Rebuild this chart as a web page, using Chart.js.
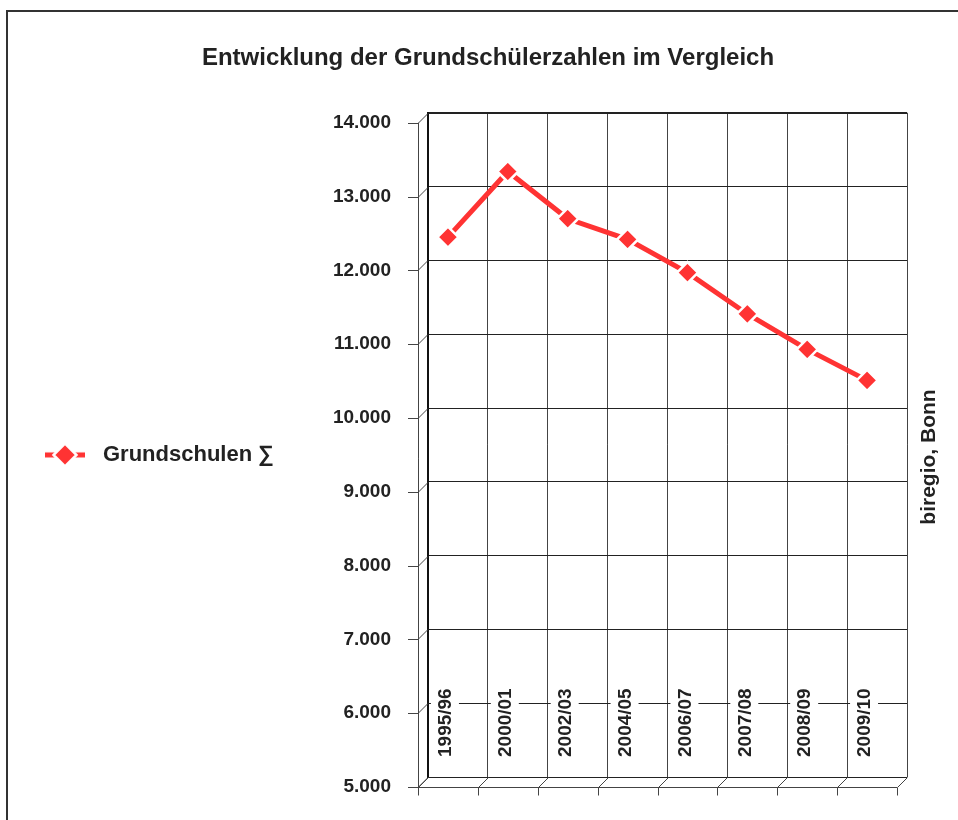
<!DOCTYPE html>
<html>
<head>
<meta charset="utf-8">
<script src="https://cdn.jsdelivr.net/npm/chart.js@4"></script>
<style>
  html, body { margin: 0; padding: 0; background: #fff; overflow: hidden; }
  #frame { position: absolute; left: 6px; top: 10px; width: 1000px; height: 860px; border: 2px solid #333; }
  #chart { position: absolute; left: 0; top: 0; }
</style>
</head>
<body>
<div id="frame"></div>
<canvas id="chart" width="958" height="820"></canvas>
<script>
const years = ['1995/96', '2000/01', '2002/03', '2004/05', '2006/07', '2007/08', '2008/09', '2009/10']
const schueler = [12450, 13340, 12700, 12420, 11970, 11410, 10930, 10510]
const yMin = 5000
const yMax = 14000
const yStep = 1000

const FONT = "'Liberation Sans', Arial, sans-serif"
const RED = '#ff3333'
const DEPTH = 10

// legend symbol: line with diamond, like excel
const legendIcon = document.createElement('canvas')
legendIcon.width = 54
legendIcon.height = 24
{
    const c = legendIcon.getContext('2d')
    c.strokeStyle = RED
    c.lineWidth = 5
    c.beginPath()
    c.moveTo(7, 12)
    c.lineTo(47, 12)
    c.stroke()
    c.beginPath()
    c.moveTo(27, 0.5); c.lineTo(38.5, 12); c.lineTo(27, 23.5); c.lineTo(15.5, 12); c.closePath()
    c.fillStyle = RED
    c.fill()
    c.strokeStyle = '#fff'
    c.lineWidth = 2.5
    c.stroke()
}

const pseudo3d = {
    id: 'pseudo3d',
    beforeDatasetsDraw(chart) {
        const {ctx, chartArea: a, scales: {x, y}} = chart
        const colW = a.width / years.length
        ctx.save()
        ctx.strokeStyle = '#444'
        ctx.lineWidth = 1
        ctx.beginPath()
        // front value axis
        ctx.moveTo(a.left - DEPTH + 0.5, y.getPixelForValue(yMax) + DEPTH)
        ctx.lineTo(a.left - DEPTH + 0.5, y.getPixelForValue(yMin) + DEPTH + 8)
        for (let v = yMin; v <= yMax; v += yStep) {
            const py = Math.round(y.getPixelForValue(v)) + 0.5
            ctx.moveTo(a.left - DEPTH - 10, py + DEPTH)
            ctx.lineTo(a.left - DEPTH, py + DEPTH)
            ctx.lineTo(a.left, py)
        }
        // floor front edge
        const fy = Math.round(a.bottom) + 0.5
        ctx.moveTo(a.left - DEPTH, fy + DEPTH)
        ctx.lineTo(a.right - DEPTH, fy + DEPTH)
        for (let i = 0; i <= years.length; i++) {
            const bx = i < years.length ? x.getPixelForValue(i) - colW / 2 : a.right
            const px = Math.round(bx) + 0.5
            ctx.moveTo(px, fy)
            ctx.lineTo(px - DEPTH, fy + DEPTH)
            ctx.lineTo(px - DEPTH, fy + DEPTH + 8)
        }
        ctx.stroke()

        // category labels, vertical, inside the plot
        ctx.font = 'bold 19px ' + FONT
        ctx.textBaseline = 'middle'
        ctx.textAlign = 'left'
        const base = a.bottom - 20
        years.forEach((lab, i) => {
            const cx = x.getPixelForValue(i) - DEPTH - 3
            const w = ctx.measureText(lab).width
            ctx.fillStyle = '#fff'
            ctx.fillRect(cx - 14, base - w - 4, 28, w + 8)
            ctx.save()
            ctx.translate(cx, base)
            ctx.rotate(-Math.PI / 2)
            ctx.fillStyle = '#222'
            ctx.fillText(lab, 0, 1)
            ctx.restore()
        })

        // source note on the right
        ctx.save()
        ctx.font = 'bold 21px ' + FONT
        ctx.textAlign = 'center'
        ctx.textBaseline = 'middle'
        ctx.fillStyle = '#222'
        ctx.translate(929, 457)
        ctx.rotate(-Math.PI / 2)
        ctx.fillText('biregio, Bonn', 0, 0)
        ctx.restore()
        ctx.restore()

        // series sits on the front plane
        ctx.save()
        ctx.translate(-DEPTH, DEPTH)
    },
    afterDatasetsDraw(chart) {
        chart.ctx.restore()
    }
}

new Chart('chart', {
    type: 'line',
    data: {
        labels: years,
        datasets: [{
            label: 'Grundschulen ∑',
            data: schueler,
            borderColor: RED,
            borderWidth: 5,
            backgroundColor: RED,
            pointStyle: 'rectRot',
            pointRadius: 10.5,
            pointBackgroundColor: RED,
            pointBorderColor: '#fff',
            pointBorderWidth: 2.5,
            tension: 0,
            clip: false
        }]
    },
    options: {
        responsive: false,
        animation: false,
        locale: 'de-DE',
        layout: { padding: { left: 18, right: 0, top: 0, bottom: 0 } },
        plugins: {
            title: {
                display: true,
                text: 'Entwicklung der Grundschülerzahlen im Vergleich',
                color: '#222',
                font: { family: FONT, size: 24, weight: 'bold' },
                padding: { top: 44, bottom: 40 }
            },
            legend: {
                position: 'left',
                fullSize: false,
                maxWidth: 320,
                title: { display: true, text: ' ', font: { size: 10 }, padding: { top: 4, bottom: 4 } },
                labels: {
                    usePointStyle: true,
                    pointStyle: legendIcon,
                    pointStyleWidth: 54,
                    padding: 20,
                    color: '#222',
                    font: { family: FONT, size: 22, weight: 'bold' }
                }
            },
            tooltip: { enabled: false }
        },
        scales: {
            x: {
                offset: true,
                grid: { offset: true, color: '#444', lineWidth: 1, drawTicks: false },
                border: { display: false },
                ticks: { display: false },
                afterFit: s => { s.height = 43 }
            },
            y: {
                min: yMin,
                max: yMax,
                grid: {
                    color: '#222',
                    lineWidth: c => (c.tick && c.tick.value === yMax ? 2 : 1),
                    drawTicks: true,
                    tickLength: 37,
                    tickColor: 'rgba(0,0,0,0)'
                },
                border: { display: true, color: '#111', width: 2 },
                ticks: {
                    stepSize: yStep,
                    padding: 0,
                    labelOffset: DEPTH,
                    color: '#222',
                    font: { family: FONT, size: 19, weight: 'bold' }
                },
                afterFit: s => {
                    const lw = s.chart.legend ? s.chart.legend.width : 260
                    s.width = 428 - 18 - lw
                }
            },
            yR: {
                position: 'right',
                display: true,
                grid: { display: false },
                border: { display: false },
                ticks: { display: false },
                afterFit: s => { s.width = 51 }
            }
        }
    },
    plugins: [pseudo3d]
})
</script>
</body>
</html>
